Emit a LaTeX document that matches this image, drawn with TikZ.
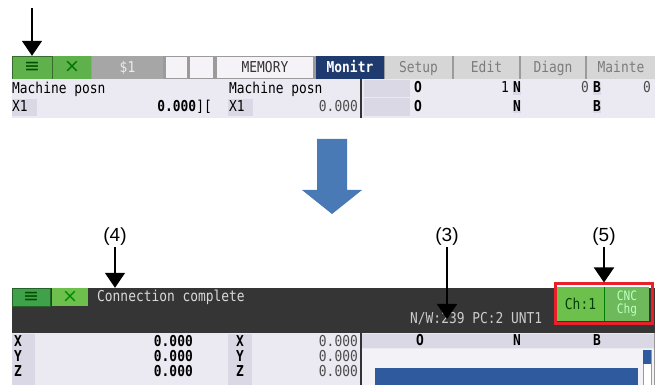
\documentclass[tikz,border=0pt]{standalone}
\usepackage{fontspec}
\newfontfamily\scrfont[FakeStretch=0.86]{DejaVu Sans Mono}
\newfontfamily\symfont{DejaVu Sans}
\newfontfamily\lblfont{Liberation Sans}
\usetikzlibrary{arrows.meta}

\definecolor{btngreen}{HTML}{5FB14B}
\definecolor{btnlight}{HTML}{6DC04C}
\definecolor{btndark}{HTML}{3FA24A}
\definecolor{bargray}{HTML}{9B9B9B}
\definecolor{sysgray}{HTML}{A6A6A6}
\definecolor{paper}{HTML}{F5F3F7}
\definecolor{navy}{HTML}{1F3A6E}
\definecolor{tabgray}{HTML}{D6D6D6}
\definecolor{tabtext}{HTML}{7C7C7C}
\definecolor{panel}{HTML}{EBE9F2}
\definecolor{labelbox}{HTML}{DAD8E4}
\definecolor{darkbar}{HTML}{353535}
\definecolor{alarmred}{HTML}{E8202A}
\definecolor{bigblue}{HTML}{4A7AB5}
\definecolor{barblue}{HTML}{2F5B9E}

\tikzset{
  scr/.style={font=\scrfont\fontsize{15}{15}\selectfont},
  scrbold/.style={font=\scrfont\bfseries\fontsize{15}{15}\selectfont},
  sym/.style={font=\symfont\fontsize{19}{19}\selectfont},
  cell/.style={scr, inner sep=0pt, minimum height=23pt, text height=11pt, text depth=1pt},
  tab/.style={cell, fill=tabgray, text=tabtext},
  txt/.style={scr, inner sep=0pt, text height=11pt, text depth=2pt},
  pointer/.style={line width=1.6pt, -{Triangle[width=20pt,length=15pt]}},
  callout/.style={font=\lblfont\fontsize{19}{22}\selectfont, inner sep=1pt},
}

\begin{document}
\begin{tikzpicture}[x=1pt,y=-1pt]
\useasboundingbox (0,0) rectangle (657,385);

% screen before
\fill[bargray] (12,56) rectangle (655,79);
\node[cell, sym, fill=btngreen, draw=btngreen!60!black, minimum width=40pt, text=black!70!green] (menu) at (32,67.5) {≡};
\node[cell, sym, fill=btngreen, minimum width=38pt, text=black!55!green] (close) at (72,67.5) {×};
\node[cell, fill=sysgray, minimum width=71pt, text=white!85!gray] (sys) at (127.5,67.5) {\$1};
\node[cell, fill=paper, minimum width=21pt, minimum height=21pt] (blanka) at (176.5,67.5) {};
\node[cell, fill=paper, minimum width=23pt, minimum height=21pt] (blankb) at (201.5,67.5) {};
\node[cell, fill=paper, minimum width=96pt, minimum height=21pt, text=black!80] (mode) at (265,67.5) {MEMORY};
\node[cell, scrbold, fill=navy, minimum width=68pt, text=white] (monitr) at (350,67.5) {Monitr};
\node[tab, minimum width=67pt] (setup) at (418.5,67.5) {Setup};
\node[tab, minimum width=65pt] (edit) at (486.5,67.5) {Edit};
\node[tab, minimum width=64pt] (diagn) at (553,67.5) {Diagn};
\node[tab, minimum width=68pt] (mainte) at (621,67.5) {Mainte};

\fill[panel] (12,79) rectangle (655,118);
\fill[labelbox] (12,99) rectangle (37,116);
\fill[labelbox] (228,99) rectangle (253,116);
\fill[labelbox] (364,80) rectangle (410,97);
\fill[labelbox] (364,98) rectangle (410,116);
\node[txt, anchor=west] (posna) at (12,89) {Machine posn};
\node[txt, anchor=west] (axa) at (12,107) {X1};
\node[txt, anchor=east] (vala) at (212,107) {\textbf{0.000}][};
\node[txt, anchor=west] (posnb) at (229,89) {Machine posn};
\node[txt, anchor=west] (axb) at (229,107) {X1};
\node[txt, anchor=east, text=black!70] (valb) at (358,107) {0.000};
\draw[line width=1.5pt, black!80] (361,79) -- (361,118);
\node[txt, scrbold] (prga) at (418,88.5) {O};
\node[txt, anchor=east] (seqa) at (509,88.5) {1};
\node[txt, scrbold, fill=labelbox] (nna) at (517,88.5) {N};
\node[txt, anchor=east, text=black!70] (seqb) at (589,88.5) {0};
\node[txt, scrbold, fill=labelbox] (bba) at (597,88.5) {B};
\node[txt, anchor=east, text=black!70] (blk) at (651,88.5) {0};
\node[txt, scrbold] (prgb) at (418,107) {O};
\node[txt, scrbold, fill=labelbox] (nnb) at (517,107) {N};
\node[txt, scrbold, fill=labelbox] (bbb) at (597,107) {B};

\coordinate (start) at (32,8);
\draw[pointer] (start) -- (menu.north);

% big arrow
\fill[bigblue] (317,139) -- (347,139) -- (347,190) -- (362,190) -- (332,214) -- (302,190) -- (317,190) -- cycle;

% screen after
\node[fill=darkbar, inner sep=0pt, minimum width=643pt, minimum height=45pt] (dark) at (333.5,310.5) {};
\node[cell, sym, fill=btndark, draw=btndark!60!black, minimum width=38pt, minimum height=18pt, text=black!70!green] (menub) at (31,297) {≡};
\node[cell, sym, fill=btnlight, minimum width=36pt, minimum height=18pt, text=black!45!green] (closeb) at (70,297) {×};
\node[txt, anchor=west, text=white!85!black] (conn) at (97,297) {Connection complete};
\node[txt, anchor=west, text=white!80!black] (nw) at (410,319) {N/W:239 PC:2 UNT1};
\node[cell, fill=btnlight, minimum width=47pt, minimum height=34pt, text=black!75!green] (ch) at (580.5,304) {Ch:1};
\node[fill=btngreen!90!white, inner sep=0pt, minimum width=44pt, minimum height=34pt, text=green!25!white, align=center, font=\scrfont\fontsize{13}{13}\selectfont] (cnc) at (627,304) {CNC\\Chg};
\draw[black!50!green, line width=1pt] (ch.north east) -- (ch.south east);
\node[draw=alarmred, line width=3pt, inner sep=0pt, minimum width=97pt, minimum height=40pt] (chbox) at (603.5,304) {};

\fill[panel] (12,333) rectangle (655,385);
\fill[labelbox] (12,334) rectangle (35,385);
\fill[labelbox] (228,334) rectangle (252,385);
\fill[labelbox] (362,334) rectangle (654,348);
\fill[panel!60!white] (362,349) rectangle (654,385);
\foreach \ax/\yy in {X/342,Y/357,Z/372}{
  \node[txt] (axl\ax) at (18,\yy) {\textbf{\ax}};
  \node[txt, anchor=east] (vall\ax) at (193,\yy) {\textbf{0.000}};
  \node[txt] (axr\ax) at (240,\yy) {\textbf{\ax}};
  \node[txt, anchor=east, text=black!70] (valr\ax) at (358,\yy) {0.000};
}
\draw[line width=1.5pt, black!80] (361,333) -- (361,385);
\node[txt, scrbold] (prgc) at (420,341) {O};
\node[txt, scrbold] (nnc) at (517,341) {N};
\node[txt, scrbold] (bbc) at (597,341) {B};
\fill[barblue] (375,368) rectangle (638,385);
\fill[white, draw=black!40] (643,350) rectangle (651,385);
\fill[barblue] (643,350) rectangle (651,364);
\draw[black!40] (654.5,333) -- (654.5,385);

% callouts
\node[callout] (lbl4) at (115,237) {(4)};
\node[callout] (lbl3) at (447,237) {(3)};
\node[callout] (lbl5) at (604,237) {(5)};
\draw[pointer] (lbl4.south) -- (lbl4.south |- dark.north);
\draw[pointer] (lbl3.south) -- (lbl3.south |- nw.center);
\draw[pointer] (lbl5.south) -- (lbl5.south |- chbox.north);

\end{tikzpicture}
\end{document}
